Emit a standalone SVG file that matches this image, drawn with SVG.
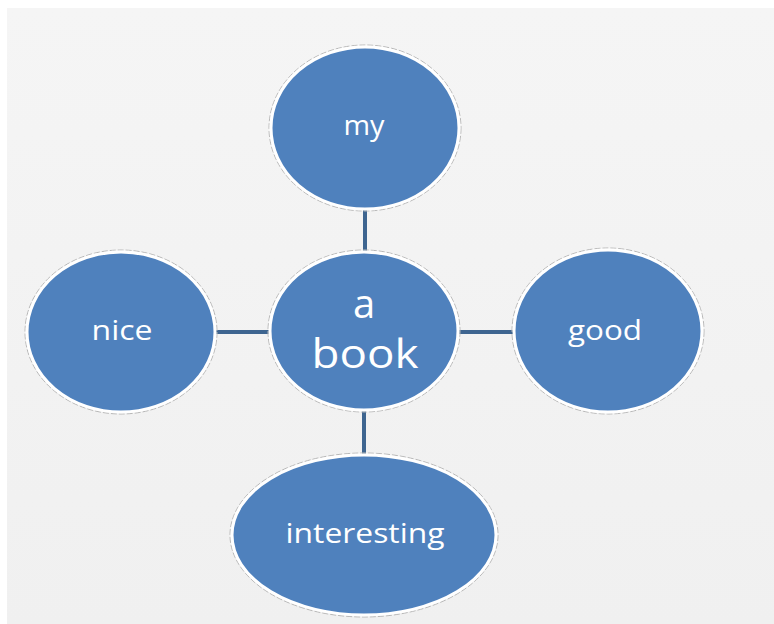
<svg xmlns="http://www.w3.org/2000/svg" width="774" height="624" viewBox="0 0 774 624">
<defs>
<linearGradient id="bg" x1="0" y1="0" x2="0" y2="1">
<stop offset="0" stop-color="#f5f5f5"/>
<stop offset="1" stop-color="#f0f0f0"/>
</linearGradient>
</defs>
<style>
.halo{fill:none;stroke:#b8b8b8;stroke-width:1;stroke-dasharray:6 2}
.node{fill:#4f81bd;stroke:#ffffff;stroke-width:3}
.lbl{font-family:"Open Sans","Noto Sans",sans-serif;fill:#ffffff;text-anchor:middle}
.s{font-size:27px}
.b{font-size:40px}
.conn{stroke:#3e6590;stroke-width:4;fill:none}
</style>
<rect x="0" y="0" width="774" height="624" fill="#ffffff"/>
<rect x="7" y="8" width="767" height="616" fill="url(#bg)"/>
<g id="connectors">
<line class="conn" x1="365" y1="207" x2="365" y2="254"/>
<line class="conn" x1="364" y1="409" x2="364" y2="456"/>
<line class="conn" x1="216" y1="332" x2="271" y2="332"/>
<line class="conn" x1="457" y1="332" x2="515" y2="332"/>
</g>
<g id="node-my">
<ellipse class="halo" cx="365" cy="128" rx="96" ry="83"/>
<ellipse class="node" cx="365" cy="128" rx="94" ry="81"/>
<text class="lbl s" x="364" y="135" textLength="41" lengthAdjust="spacingAndGlyphs">my</text>
</g>
<g id="node-center">
<ellipse class="halo" cx="364" cy="331" rx="96" ry="81"/>
<ellipse class="node" cx="364" cy="331" rx="94" ry="79"/>
<text class="lbl b"><tspan x="364" y="318">a</tspan><tspan x="365" y="368" textLength="107" lengthAdjust="spacingAndGlyphs">book</tspan></text>
</g>
<g id="node-nice">
<ellipse class="halo" cx="121" cy="332" rx="96" ry="82"/>
<ellipse class="node" cx="121" cy="332" rx="94" ry="80"/>
<text class="lbl s" x="122" y="340" textLength="61" lengthAdjust="spacingAndGlyphs">nice</text>
</g>
<g id="node-good">
<ellipse class="halo" cx="608" cy="331" rx="96" ry="83"/>
<ellipse class="node" cx="608" cy="331" rx="94" ry="81"/>
<text class="lbl s" x="605" y="340" textLength="74" lengthAdjust="spacingAndGlyphs">good</text>
</g>
<g id="node-interesting">
<ellipse class="halo" cx="364" cy="535" rx="134" ry="82"/>
<ellipse class="node" cx="364" cy="535" rx="132" ry="80"/>
<text class="lbl s" x="365" y="543" textLength="159" lengthAdjust="spacingAndGlyphs">interesting</text>
</g>
</svg>
